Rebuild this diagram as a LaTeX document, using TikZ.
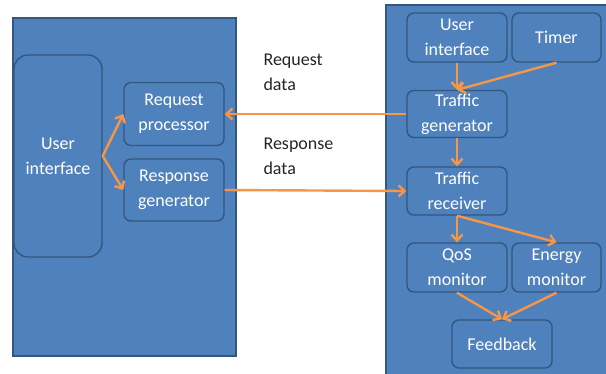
\documentclass[tikz,border=0pt]{standalone}
\usepackage{fontspec}
\setmainfont{Carlito}
\usetikzlibrary{arrows.meta}
\definecolor{panelblue}{HTML}{4F81BD}
\definecolor{edgeblue}{HTML}{34577F}
\definecolor{flow}{HTML}{F79646}

\begin{document}
\begin{tikzpicture}[x=1pt, y=-1pt,
	module/.style={draw=edgeblue, line width=1.4pt, fill=panelblue, rounded corners=7pt,
		text=white, align=center, inner sep=0pt, font=\fontsize{18}{25}\selectfont},
	flowarrow/.style={draw=flow, line width=2.4pt, arrows={-Straight Barb[length=6pt, width=11pt]}},
	datalabel/.style={anchor=west, align=left, text=black!85, font=\fontsize{18}{25}\selectfont}]
	\clip (0,0) rectangle (606,373);
	\fill [white] (0,0) rectangle (606,373);
	% panels
	\draw [edgeblue, line width=1.6pt, fill=panelblue] (13,18) rectangle (236,356);
	\draw [edgeblue, line width=1.6pt, fill=panelblue] (386,5) rectangle (612,380);
	% left side
	\node [module, rounded corners=14pt, minimum width=88pt, minimum height=202pt] (ui) at (58,156) {User\\interface};
	\node [module, minimum width=100pt, minimum height=63pt] (reqproc) at (174,114) {Request\\processor};
	\node [module, minimum width=100pt, minimum height=62pt] (respgen) at (174,190) {Response\\generator};
	% right side
	\node [module, minimum width=100pt, minimum height=49pt] (rui) at (457,37.5) {User\\interface};
	\node [module, minimum width=89pt, minimum height=49pt] (timer) at (556.5,37.5) {Timer};
	\node [module, minimum width=100pt, minimum height=47pt] (tgen) at (457,114) {Traffic\\generator};
	\node [module, minimum width=100pt, minimum height=48pt] (trx) at (457,191) {Traffic\\receiver};
	\node [module, minimum width=100pt, minimum height=49pt] (qos) at (457,267.5) {QoS\\monitor};
	\node [module, minimum width=89pt, minimum height=49pt] (energy) at (556.5,267.5) {Energy\\monitor};
	\node [module, minimum width=100pt, minimum height=48pt] (feedback) at (502,344) {Feedback};
	% labels
	\node [datalabel] (reqdata) at (260,72) {Request\\data};
	\node [datalabel] (respdata) at (260,156) {Response\\data};
	% arrows
	\draw [flowarrow] (ui.east) -- (reqproc.west);
	\draw [flowarrow] (ui.east) -- (respgen.west);
	\draw [flowarrow] (tgen.west) -- (reqproc.east);
	\draw [flowarrow] (respgen.east) -- (trx.west);
	\draw [flowarrow] (rui.south) -- (tgen.north);
	\draw [flowarrow] (timer.south) -- (tgen.north);
	\draw [flowarrow] (tgen.south) -- (trx.north);
	\draw [flowarrow] (trx.south) -- (qos.north);
	\draw [flowarrow] (trx.south) -- (energy.north);
	\draw [flowarrow] (qos.south) -- (feedback.north);
	\draw [flowarrow] (energy.south) -- (feedback.north);
\end{tikzpicture}
\end{document}
